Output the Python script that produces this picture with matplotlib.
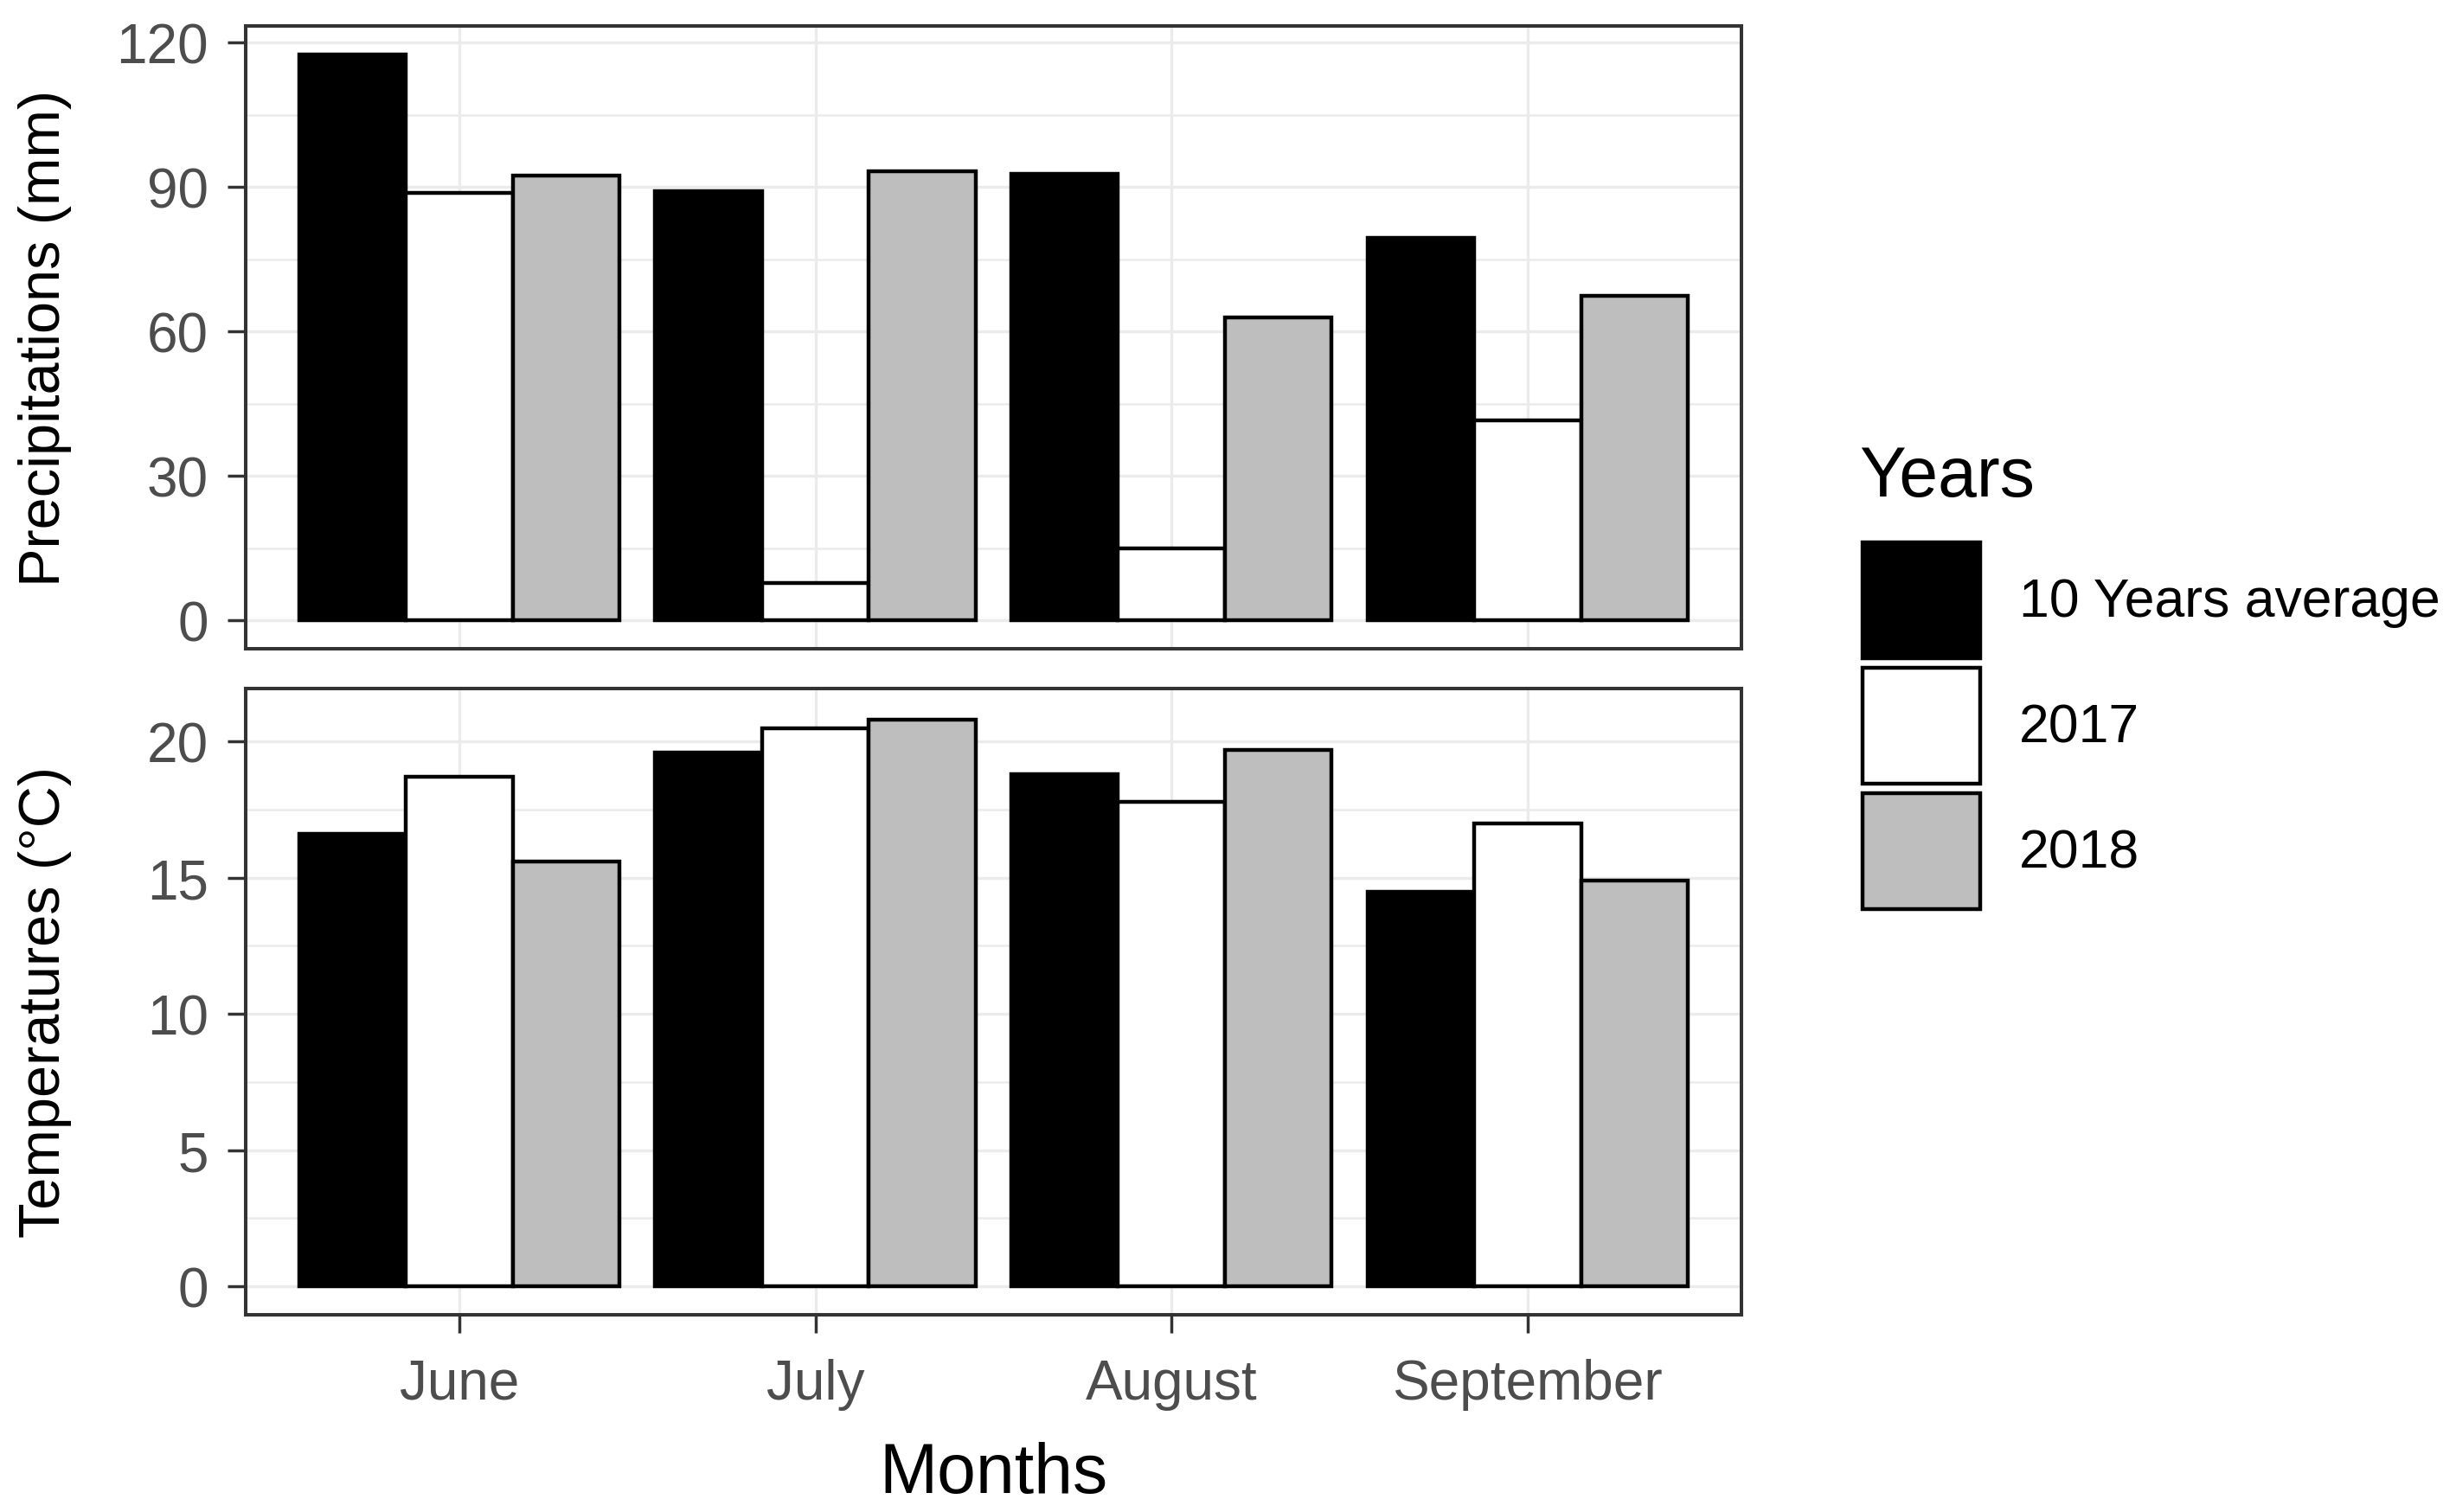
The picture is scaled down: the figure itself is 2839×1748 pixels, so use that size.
import numpy as np
import matplotlib.pyplot as plt
from matplotlib.ticker import MultipleLocator

months = ["June", "July", "August", "September"]
years = ["10 Years average", "2017", "2018"]
colors = ["black", "white", "#BEBEBE"]

precip_avg = [117.6, 89.2, 92.7, 79.4]
precip_2017 = [88.8, 7.8, 14.9, 41.5]
precip_2018 = [92.4, 93.3, 63.0, 67.4]

temp_avg = [16.6, 19.6, 18.8, 14.5]
temp_2017 = [18.7, 20.5, 17.8, 17.0]
temp_2018 = [15.6, 20.8, 19.7, 14.9]

plt.rcParams['font.family'] = ['Liberation Sans', 'DejaVu Sans']

fig = plt.figure(figsize=(28.39, 17.49), dpi=100)
ax1 = fig.add_axes([0.1, 0.5706, 0.609, 0.4117])
ax2 = fig.add_axes([0.1, 0.1304, 0.609, 0.4139], sharex=ax1)

x = np.arange(1, len(months) + 1)
w = 0.3


def panel(ax, series, major, minor, ylim, ylabel):
    bars = []
    for i, vals in enumerate(series):
        b = ax.bar(x + (i - 1) * w, vals, width=w, color=colors[i],
                   edgecolor='black', linewidth=3.2, label=years[i], zorder=3)
        bars.append(b)
    ax.set_xlim(0.4, 4.6)
    ax.set_ylim(ylim)
    ax.yaxis.set_major_locator(MultipleLocator(major))
    ax.yaxis.set_minor_locator(MultipleLocator(minor))
    ax.set_axisbelow(True)
    ax.grid(which='major', color='#EBEBEB', lw=2.4)
    ax.grid(which='minor', axis='y', color='#EBEBEB', lw=1.8)
    for s in ax.spines.values():
        s.set_color('#333333')
        s.set_linewidth(2.9)
    ax.tick_params(axis='y', which='major', labelsize=46, labelcolor='#4D4D4D',
                   length=15, width=2.5, color='#333333', pad=16)
    ax.tick_params(which='minor', length=0)
    ax.set_ylabel(ylabel, fontsize=48)
    ax.yaxis.set_label_coords(-0.116, 0.5)
    return bars


bars = panel(ax1, [precip_avg, precip_2017, precip_2018], 30, 15,
             (-5.9, 123.5), "Precipitations (mm)")
panel(ax2, [temp_avg, temp_2017, temp_2018], 5, 2.5,
      (-1.05, 21.95), "Temperatures (°C)")

ax2.set_xticks(x, months)
ax1.tick_params(axis='x', which='both', length=0, labelbottom=False)
ax2.tick_params(axis='x', labelsize=46, labelcolor='#4D4D4D', length=15,
                width=2.5, color='#333333', pad=21)

fig.text(0.4045, 1 - 1726 / 1749, "Months", ha='center', va='baseline', fontsize=58)
fig.text(2149 / 2839, 1 - 574 / 1749, "Years", ha='left', va='baseline', fontsize=58)

# legend keys: 136 px wide, 134 px tall, 145 px apart
fs = 45
fs_px = fs * 100 / 72
hh = 2.92
fig.legend(handles=bars, labels=years, loc='upper left',
           bbox_to_anchor=(2153 / 2839, 1 - 628 / 1749), frameon=False,
           fontsize=fs, handlelength=136 / fs_px, handleheight=hh,
           labelspacing=11 / fs_px,
           handletextpad=45 / fs_px, borderpad=0, borderaxespad=0)

fig.savefig("out.png", dpi=100)
